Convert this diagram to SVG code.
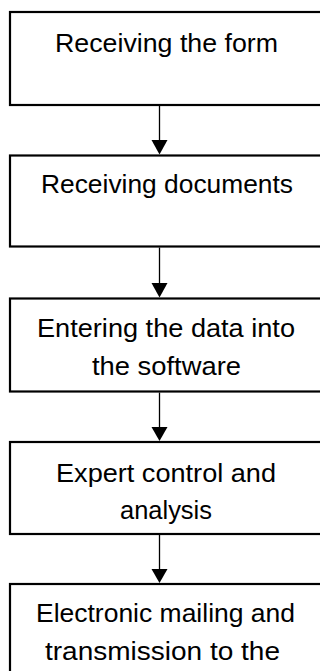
<svg xmlns="http://www.w3.org/2000/svg" width="320" height="671" viewBox="0 0 320 671">
<defs>
<style>
.box{fill:#fff;stroke:#000;stroke-width:2.2}
.lbl{font-family:"Liberation Sans",Arial,sans-serif;font-size:26px;fill:#000;text-anchor:middle}
.conn line{stroke:#000;stroke-width:1.3}
.conn polygon{fill:#000}
</style>
</defs>
<rect width="320" height="671" fill="#fff"/>
<g id="n1"><rect class="box" x="10" y="12" width="320" height="93"/>
<text class="lbl" x="166.5" y="52" textLength="223" lengthAdjust="spacingAndGlyphs">Receiving the form</text></g>
<g id="n2"><rect class="box" x="10" y="155.5" width="320" height="91"/>
<text class="lbl" x="167" y="193" textLength="252" lengthAdjust="spacingAndGlyphs">Receiving documents</text></g>
<g id="n3"><rect class="box" x="10" y="298.5" width="320" height="93"/>
<text class="lbl" x="166" y="337" textLength="258" lengthAdjust="spacingAndGlyphs">Entering the data into</text>
<text class="lbl" x="166.5" y="375" textLength="149" lengthAdjust="spacingAndGlyphs">the software</text></g>
<g id="n4"><rect class="box" x="10" y="442" width="320" height="92"/>
<text class="lbl" x="166" y="482" textLength="220" lengthAdjust="spacingAndGlyphs">Expert control and</text>
<text class="lbl" x="166" y="519" textLength="92" lengthAdjust="spacingAndGlyphs">analysis</text></g>
<g id="n5"><rect class="box" x="10" y="584" width="320" height="120"/>
<text class="lbl" x="165.5" y="622" textLength="259" lengthAdjust="spacingAndGlyphs">Electronic mailing and</text>
<text class="lbl" x="162.5" y="660" textLength="235" lengthAdjust="spacingAndGlyphs">transmission to the</text></g>
<g id="connectors" class="conn">
<line x1="159.5" y1="106" x2="159.5" y2="141"/><polygon points="151.5,140 167.5,140 159.5,154.5"/>
<line x1="159.5" y1="247.5" x2="159.5" y2="284"/><polygon points="151.5,283 167.5,283 159.5,297.5"/>
<line x1="159.5" y1="392.5" x2="159.5" y2="428"/><polygon points="151.5,427 167.5,427 159.5,441"/>
<line x1="159.5" y1="535" x2="159.5" y2="570"/><polygon points="151.5,569 167.5,569 159.5,583"/>
</g>
</svg>
